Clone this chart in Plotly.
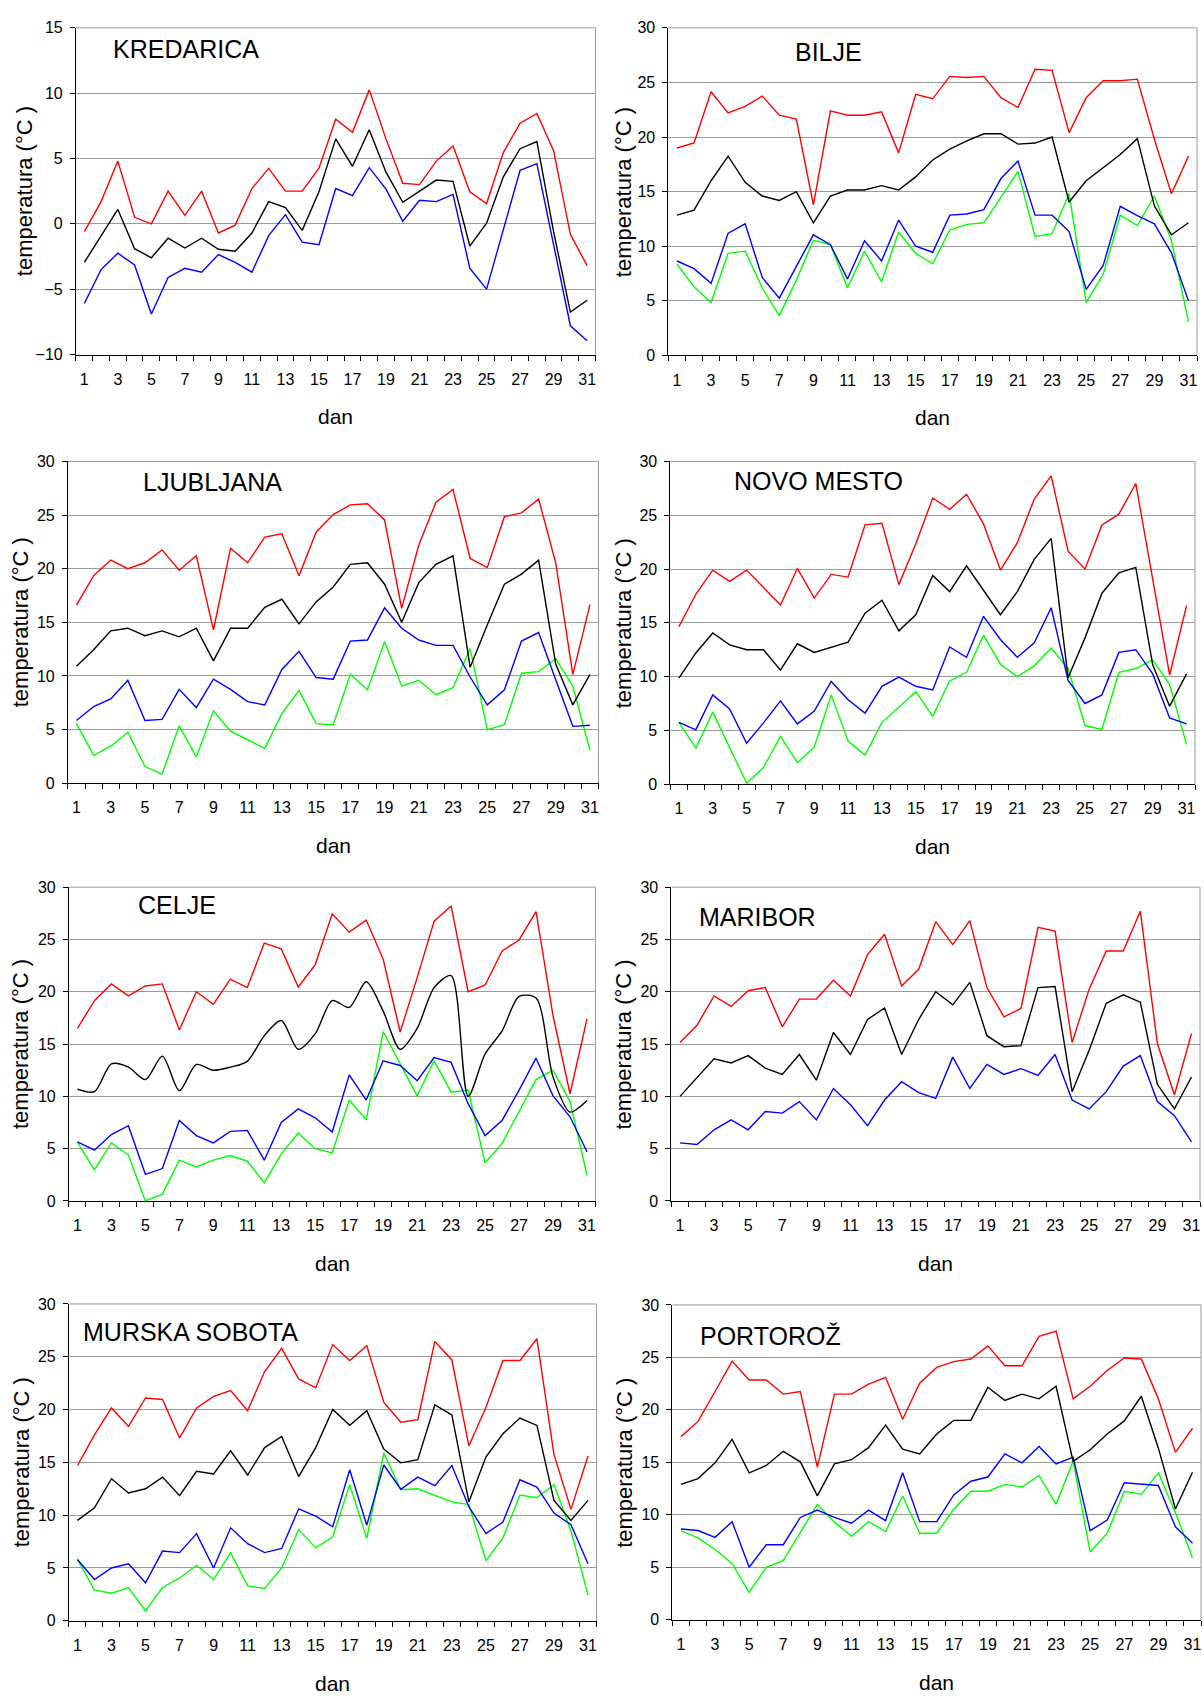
import plotly.graph_objects as go

W, H = 1204, 1704

days = list(range(1, 32))
x_tick_vals = list(range(1, 32, 2))
x_tick_text = [str(d) for d in x_tick_vals]

# ---------------- data (°C) ----------------
kredarica_max = [-0.6, 1.7, 4.8, 0.5, 0.0, 2.5, 0.65, 2.5, -0.7, -0.1, 2.7, 4.25, 2.5, 2.5, 4.25, 8.0, 7.0, 10.25, 6.5, 3.1, 3.0, 4.8, 5.95, 2.45, 1.55, 5.45, 7.7, 8.45, 5.6, -0.8, -3.2]
kredarica_mean = [-2.95, -0.95, 1.1, -1.9, -2.6, -1.1, -1.85, -1.1, -1.95, -2.1, -0.7, 1.7, 1.25, -0.5, 2.45, 6.5, 4.4, 7.2, 3.95, 1.65, 2.5, 3.35, 3.25, -1.7, 0.05, 3.6, 5.75, 6.3, -0.6, -6.75, -5.85]
kredarica_min = [-6.1, -3.5, -2.25, -3.15, -6.9, -4.1, -3.4, -3.7, -2.35, -2.95, -3.7, -0.9, 0.7, -1.4, -1.6, 2.7, 2.15, 4.3, 2.65, 0.2, 1.8, 1.7, 2.25, -3.4, -5.0, -0.35, 4.1, 4.6, -1.6, -7.8, -8.95]

bilje_max = [19.0, 19.45, 24.15, 22.2, 22.8, 23.75, 22.0, 21.65, 13.8, 22.4, 22.0, 22.0, 22.3, 18.55, 23.9, 23.5, 25.55, 25.45, 25.55, 23.6, 22.7, 26.2, 26.1, 20.4, 23.6, 25.15, 25.15, 25.3, 19.8, 14.8, 18.25]
bilje_mean = [12.85, 13.3, 16.0, 18.25, 15.85, 14.6, 14.2, 15.0, 12.15, 14.6, 15.15, 15.15, 15.55, 15.15, 16.35, 17.9, 18.9, 19.65, 20.3, 20.3, 19.35, 19.45, 20.0, 14.05, 16.0, 17.2, 18.4, 19.85, 13.7, 11.05, 12.15]
bilje_min = [8.65, 7.95, 6.6, 11.2, 12.05, 7.15, 5.25, 8.1, 11.05, 10.15, 7.0, 10.5, 8.65, 12.4, 10.0, 9.45, 12.85, 12.95, 13.35, 16.2, 17.8, 12.85, 12.85, 11.35, 6.05, 8.25, 13.65, 12.8, 12.05, 9.4, 5.0]
bilje_min5 = [8.35, 6.3, 4.85, 9.35, 9.55, 6.2, 3.65, 6.9, 10.55, 10.15, 6.2, 9.55, 6.75, 11.3, 9.35, 8.4, 11.5, 12.0, 12.15, 14.45, 16.85, 10.9, 11.15, 14.8, 4.85, 7.45, 12.85, 11.9, 14.6, 10.5, 3.05]

ljubljana_max = [16.6, 19.35, 20.8, 20.0, 20.55, 21.75, 19.85, 21.2, 14.3, 21.9, 20.55, 22.95, 23.25, 19.35, 23.4, 25.05, 25.95, 26.05, 24.55, 16.3, 22.2, 26.2, 27.4, 20.95, 20.1, 24.85, 25.2, 26.5, 20.55, 10.15, 16.65]
ljubljana_mean = [10.9, 12.45, 14.2, 14.45, 13.75, 14.2, 13.65, 14.45, 11.4, 14.45, 14.45, 16.4, 17.15, 14.85, 16.9, 18.3, 20.4, 20.55, 18.55, 15.0, 18.7, 20.4, 21.2, 10.8, 14.75, 18.55, 19.5, 20.8, 11.1, 7.3, 10.15]
ljubljana_min = [5.85, 7.15, 7.85, 9.6, 5.85, 5.95, 8.75, 7.05, 9.7, 8.75, 7.6, 7.3, 10.6, 12.3, 9.85, 9.7, 13.25, 13.35, 16.35, 14.45, 13.35, 12.85, 12.85, 9.9, 7.3, 8.7, 13.25, 14.05, 9.65, 5.3, 5.4]
ljubljana_min5 = [5.55, 2.6, 3.45, 4.75, 1.55, 0.85, 5.35, 2.45, 6.75, 4.85, 4.05, 3.25, 6.5, 8.65, 5.55, 5.45, 10.15, 8.7, 13.2, 9.05, 9.6, 8.25, 8.9, 12.55, 5.0, 5.45, 10.25, 10.4, 11.6, 9.05, 3.05]

novomesto_max = [14.65, 17.65, 19.9, 18.85, 19.9, 18.25, 16.65, 20.05, 17.3, 19.5, 19.25, 24.1, 24.25, 18.55, 22.35, 26.6, 25.55, 26.95, 24.2, 19.9, 22.45, 26.5, 28.65, 21.65, 20.0, 24.1, 25.1, 27.95, 19.1, 10.15, 16.6]
novomesto_mean = [9.85, 12.2, 14.05, 12.95, 12.5, 12.5, 10.6, 13.05, 12.25, 12.7, 13.2, 15.9, 17.1, 14.25, 15.75, 19.4, 17.9, 20.3, 18.0, 15.75, 17.9, 20.9, 22.85, 9.9, 13.6, 17.75, 19.65, 20.15, 11.1, 7.25, 10.25]
novomesto_min = [5.75, 5.05, 8.3, 7.0, 3.8, 5.7, 7.75, 5.6, 6.8, 9.55, 7.85, 6.6, 9.1, 9.95, 9.1, 8.75, 12.75, 11.8, 15.6, 13.45, 11.8, 13.15, 16.4, 9.65, 7.5, 8.3, 12.25, 12.5, 10.25, 6.15, 5.6]
novomesto_min5 = [5.75, 3.35, 6.7, 3.4, 0.1, 1.55, 4.45, 2.0, 3.45, 8.3, 4.0, 2.7, 5.75, 7.15, 8.6, 6.3, 9.6, 10.4, 13.85, 11.15, 10.0, 11.0, 12.65, 10.75, 5.45, 5.1, 10.4, 10.75, 11.55, 9.25, 3.7]

celje_max = [16.5, 19.15, 20.75, 19.6, 20.55, 20.75, 16.35, 20.0, 18.8, 21.2, 20.4, 24.65, 24.1, 20.45, 22.6, 27.45, 25.7, 26.85, 23.1, 16.15, 21.35, 26.75, 28.2, 20.0, 20.65, 23.9, 24.95, 27.65, 17.7, 10.25, 17.4]
celje_mean = [10.7, 10.45, 13.1, 12.8, 11.6, 13.85, 10.55, 13.05, 12.5, 12.8, 13.35, 15.8, 17.25, 14.5, 16.0, 19.15, 18.5, 20.95, 18.15, 14.5, 16.5, 20.4, 21.55, 10.0, 14.05, 16.25, 19.55, 19.4, 11.85, 8.5, 9.6]
celje_min = [5.65, 4.85, 6.35, 7.2, 2.55, 3.1, 7.7, 6.25, 5.55, 6.65, 6.75, 3.9, 7.5, 8.8, 7.95, 6.6, 12.05, 9.65, 13.4, 12.95, 11.5, 13.7, 13.25, 9.3, 6.25, 7.7, 10.6, 13.65, 10.05, 8.05, 4.7]
celje_min5 = [5.6, 3.0, 5.55, 4.4, 0.0, 0.65, 3.9, 3.25, 3.9, 4.35, 3.8, 1.75, 4.5, 6.5, 5.0, 4.6, 9.65, 7.75, 16.2, 13.1, 10.05, 13.4, 10.4, 10.6, 3.65, 5.5, 8.55, 11.6, 12.5, 9.5, 2.45]

maribor_max = [15.15, 16.8, 19.6, 18.6, 20.1, 20.4, 16.65, 19.3, 19.3, 21.1, 19.6, 23.55, 25.5, 20.55, 22.15, 26.7, 24.5, 26.8, 20.4, 17.6, 18.4, 26.15, 25.8, 15.15, 20.25, 23.9, 23.9, 27.7, 15.05, 10.15, 16.0]
maribor_mean = [10.0, 11.75, 13.6, 13.2, 13.9, 12.7, 12.1, 14.0, 11.55, 16.1, 14.0, 17.35, 18.45, 14.0, 17.35, 20.0, 18.75, 20.9, 15.8, 14.75, 14.85, 20.4, 20.5, 10.45, 14.4, 18.9, 19.7, 19.0, 11.15, 8.8, 11.85]
maribor_min = [5.55, 5.4, 6.8, 7.75, 6.8, 8.55, 8.4, 9.5, 7.75, 10.75, 9.2, 7.2, 9.65, 11.4, 10.35, 9.8, 13.75, 10.75, 13.05, 12.1, 12.65, 12.0, 14.0, 9.65, 8.8, 10.45, 12.9, 13.9, 9.5, 8.15, 5.65]

murska_max = [14.7, 17.6, 20.15, 18.4, 21.1, 20.95, 17.3, 20.15, 21.25, 21.8, 19.9, 23.6, 25.8, 22.9, 22.05, 26.15, 24.65, 26.05, 20.7, 18.8, 19.05, 26.45, 24.7, 16.55, 20.2, 24.65, 24.65, 26.7, 15.75, 10.55, 15.6]
murska_mean = [9.5, 10.7, 13.45, 12.1, 12.5, 13.6, 11.85, 14.15, 13.9, 16.1, 13.8, 16.4, 17.45, 13.65, 16.4, 20.0, 18.5, 19.9, 16.25, 14.95, 15.25, 20.45, 19.5, 11.25, 15.5, 17.7, 19.2, 18.5, 11.4, 9.5, 11.4]
murska_min = [5.8, 3.9, 5.0, 5.4, 3.6, 6.6, 6.45, 8.25, 5.0, 8.8, 7.3, 6.45, 6.85, 10.6, 9.9, 8.9, 14.3, 9.05, 14.75, 12.45, 13.6, 12.8, 14.7, 10.8, 8.25, 9.35, 13.35, 12.65, 10.2, 9.1, 5.4]
murska_min5 = [5.8, 2.9, 2.6, 3.15, 0.95, 3.15, 4.05, 5.25, 3.9, 6.45, 3.3, 3.05, 5.0, 8.65, 6.9, 7.95, 12.9, 7.8, 15.9, 12.4, 12.5, 11.85, 11.25, 11.0, 5.7, 7.85, 11.9, 11.65, 12.9, 8.5, 2.45]

portoroz_max = [17.45, 18.9, 21.75, 24.65, 22.85, 22.85, 21.5, 21.75, 14.55, 21.5, 21.5, 22.45, 23.1, 19.1, 22.55, 24.05, 24.6, 24.85, 26.1, 24.2, 24.2, 27.0, 27.5, 21.05, 22.25, 23.75, 24.95, 24.85, 21.05, 15.95, 18.25]
portoroz_mean = [12.9, 13.45, 14.95, 17.2, 14.0, 14.7, 16.05, 15.05, 11.8, 14.85, 15.25, 16.4, 18.55, 16.25, 15.8, 17.7, 19.0, 19.0, 22.15, 20.9, 21.5, 21.05, 22.25, 15.1, 16.2, 17.7, 18.95, 21.3, 16.35, 10.55, 14.05]
portoroz_min = [8.65, 8.5, 7.85, 9.35, 5.0, 7.15, 7.15, 9.75, 10.45, 9.75, 9.2, 10.45, 9.45, 14.0, 9.35, 9.35, 11.9, 13.2, 13.6, 15.8, 14.95, 16.5, 14.85, 15.5, 8.5, 9.5, 13.05, 12.95, 12.8, 8.85, 7.3]
portoroz_min5 = [8.5, 7.8, 6.7, 5.35, 2.6, 5.0, 5.65, 8.3, 11.0, 9.3, 7.95, 9.35, 8.4, 11.8, 8.25, 8.25, 10.55, 12.25, 12.25, 12.9, 12.65, 13.75, 11.0, 15.1, 6.45, 8.25, 12.25, 11.95, 14.0, 10.2, 5.9]

# ---------------- panel layout (pixels) ----------------
panels = [
    dict(name="KREDARICA", series=(kredarica_max, kredarica_mean, kredarica_min, None), yr=(-10, 15),
         box=(76, 20, 596, 350), title=(111, 41), ytx=24, smooth=False),
    dict(name="BILJE", series=(bilje_max, bilje_mean, bilje_min, bilje_min5), yr=(0, 30),
         box=(669, 20, 1198, 351), title=(794, 44), ytx=624, smooth=False),
    dict(name="LJUBLJANA", series=(ljubljana_max, ljubljana_mean, ljubljana_min, ljubljana_min5), yr=(0, 30),
         box=(68, 458, 599, 783), title=(141, 479), ytx=20, smooth=False),
    dict(name="NOVO MESTO", series=(novomesto_max, novomesto_mean, novomesto_min, novomesto_min5), yr=(0, 30),
         box=(671, 458, 1196, 784), title=(733, 478), ytx=624, smooth=False),
    dict(name="CELJE", series=(celje_max, celje_mean, celje_min, celje_min5), yr=(0, 30),
         box=(69, 888, 596, 1205), title=(136, 906), ytx=20, smooth=True),
    dict(name="MARIBOR", series=(maribor_max, maribor_mean, maribor_min, None), yr=(0, 30),
         box=(672, 888, 1201, 1205), title=(698, 918), ytx=624, smooth=False),
    dict(name="MURSKA SOBOTA", series=(murska_max, murska_mean, murska_min, murska_min5), yr=(0, 30),
         box=(69, 1309, 597, 1629), title=(81, 1337), ytx=21, smooth=False),
    dict(name="PORTOROŽ", series=(portoroz_max, portoroz_mean, portoroz_min, portoroz_min5), yr=(0, 30),
         box=(673, 1310, 1202, 1628), title=(699, 1341), ytx=625, smooth=False),
]

colors = ["#FF0000", "#000000", "#0000FF", "#00FF00"]
draw_order = [3, 2, 1, 0]
FONT = "Liberation Sans, Arial, sans-serif"
GRID = "#9a9a9a"

fig = go.Figure()
layout = dict(width=W, height=H, margin=dict(l=0, r=0, t=0, b=0),
              paper_bgcolor="white", plot_bgcolor="white", showlegend=False,
              font=dict(family=FONT, color="black"))
annotations = []
shapes = []

for i, p in enumerate(panels):
    n = i + 1
    xa = "xaxis" if n == 1 else f"xaxis{n}"
    ya = "yaxis" if n == 1 else f"yaxis{n}"
    xr = "x" if n == 1 else f"x{n}"
    yr = "y" if n == 1 else f"y{n}"
    l, t, r, b = p["box"]
    for k in draw_order:
        s = p["series"][k]
        if s is None:
            continue
        shape = "spline" if (p["smooth"] and k == 1) else "linear"
        fig.add_trace(go.Scatter(x=days, y=s, mode="lines", xaxis=xr, yaxis=yr,
                                 line=dict(color=colors[k], width=1.4, shape=shape, smoothing=0.8),
                                 hoverinfo="skip"))
    layout[xa] = dict(domain=[l / W, r / W], anchor=yr, range=[0.5, 31.5],
                      tickmode="array", tickvals=x_tick_vals, ticktext=x_tick_text,
                      ticks="outside", ticklen=10, tickcolor="rgba(0,0,0,0)",
                      showline=True, linecolor="black", linewidth=1,
                      showgrid=False, zeroline=False, tickfont=dict(size=16),
                      minor=dict(tickmode="array", tickvals=[d - 0.5 for d in days] + [31.5],
                                 ticks="outside", ticklen=5, tickcolor="black", showgrid=False))
    layout[ya] = dict(domain=[1 - b / H, 1 - t / H], anchor=xr, range=list(p["yr"]),
                      tickmode="linear", tick0=p["yr"][0], dtick=5,
                      ticks="outside", ticklen=5, tickcolor="black",
                      showline=True, linecolor="black", linewidth=1,
                      showgrid=True, gridcolor=GRID, gridwidth=1, zeroline=False,
                      tickfont=dict(size=16), ticklabelstandoff=4)
    # top/right frame in grey
    shapes.append(dict(type="line", xref=f"{xr} domain", yref=f"{yr} domain",
                       x0=1, x1=1, y0=0, y1=1, line=dict(color=GRID, width=1)))
    shapes.append(dict(type="line", xref=f"{xr} domain", yref=f"{yr} domain",
                       x0=0, x1=1, y0=1, y1=1, line=dict(color=GRID, width=1)))
    # station name
    tx, ty = p["title"]
    annotations.append(dict(text=p["name"], x=tx / W, y=1 - ty / H, xref="paper", yref="paper",
                            xanchor="left", yanchor="middle", showarrow=False,
                            font=dict(size=25, family=FONT, color="black")))
    # x title
    annotations.append(dict(text="dan", x=(l + r) / 2 / W, y=1 - (b + 63) / H, xref="paper", yref="paper",
                            xanchor="center", yanchor="middle", showarrow=False,
                            font=dict(size=21, family=FONT, color="black")))
    # y title
    annotations.append(dict(text="temperatura (°C )", x=p["ytx"] / W, y=1 - (t + b) / 2 / H,
                            xref="paper", yref="paper", xanchor="center", yanchor="middle",
                            textangle=-90, showarrow=False,
                            font=dict(size=22, family=FONT, color="black")))

layout["annotations"] = annotations
layout["shapes"] = shapes
fig.update_layout(**layout)

fig.write_html("out.html", config={"displayModeBar": False},
               post_script="document.body.style.margin='0';document.body.style.overflow='hidden';")
